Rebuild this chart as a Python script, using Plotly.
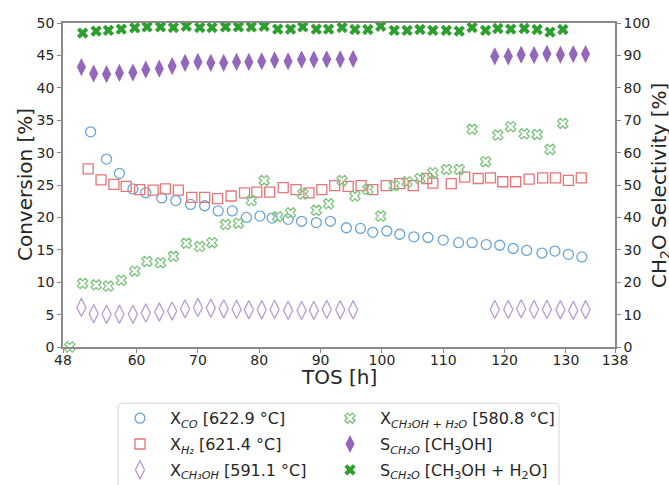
import plotly.graph_objects as go

# ---------------- data ----------------
tos_co = [52.5, 55.1, 57.2, 59.4, 61.5, 64.1, 66.4, 68.8, 71.1, 73.3, 75.6, 77.9,
          80.1, 82.1, 84.7, 86.9, 89.3, 91.6, 94.2, 96.5, 98.5, 100.8, 102.9, 105.2,
          107.5, 110.0, 112.5, 114.7, 117.0, 119.2, 121.4, 123.6, 126.1, 128.2, 130.4, 132.6]
x_co = [33.2, 29.0, 26.8, 24.4, 23.8, 23.0, 22.6, 22.0, 21.8, 21.0, 21.0, 20.0,
        20.2, 19.9, 19.7, 19.4, 19.2, 19.4, 18.4, 18.3, 17.7, 17.9, 17.4, 17.0,
        16.9, 16.5, 16.1, 16.1, 15.8, 15.7, 15.2, 14.9, 14.5, 14.8, 14.3, 13.9]

tos_h2 = [52.1, 54.2, 56.3, 58.3, 60.5, 62.7, 64.7, 66.8, 69.0, 71.1, 73.2, 75.4, 77.6,
          79.6, 81.7, 83.9, 86.0, 88.1, 90.2, 92.3, 94.5, 96.6, 98.5, 100.7, 102.9, 105.1,
          107.3, 108.3, 111.3, 113.5, 115.7, 117.7, 119.7, 121.8, 124.0, 126.2, 128.3, 130.4, 132.5]
x_h2 = [27.5, 25.8, 25.1, 24.8, 24.3, 24.2, 24.4, 24.2, 23.1, 23.1, 22.9, 23.3, 23.8,
        23.9, 23.9, 24.6, 24.3, 23.8, 24.3, 24.9, 24.8, 24.9, 24.3, 24.9, 25.2, 24.9,
        26.0, 25.3, 25.2, 26.2, 26.0, 26.1, 25.5, 25.5, 25.9, 26.1, 26.1, 25.7, 26.1]

tos_meoh = [51.0, 53.0, 55.1, 57.2, 59.4, 61.5, 63.7, 65.8, 67.9, 70.0, 72.1, 74.2, 76.3,
            78.3, 80.4, 82.5, 84.7, 86.9, 88.9, 91.0, 93.2, 95.3,
            118.4, 120.6, 122.7, 124.8, 126.9, 129.1, 131.2, 133.2]
x_meoh = [6.1, 5.15, 5.05, 5.05, 5.05, 5.25, 5.4, 5.55, 5.9, 6.1, 6.0, 5.9, 5.8,
          5.75, 5.75, 5.8, 5.65, 5.65, 5.65, 5.8, 5.75, 5.75,
          5.8, 5.8, 5.9, 5.8, 5.8, 5.75, 5.65, 5.75]
s_meoh = [86.4, 84.4, 84.2, 84.6, 84.7, 85.6, 85.9, 86.7, 87.7, 88.0, 87.7, 87.7, 88.0,
          88.0, 88.2, 88.5, 88.2, 88.7, 88.7, 88.8, 88.8, 88.9,
          89.7, 89.7, 90.2, 90.1, 90.5, 90.2, 90.4, 90.4]

tos_mix = [49.1, 51.2, 53.4, 55.4, 57.5, 59.7, 61.7, 63.9, 66.0, 68.1, 70.3, 72.3, 74.5,
           76.6, 78.7, 80.8, 83.0, 85.1, 87.1, 89.3, 91.3, 93.5, 95.6, 97.7, 99.8, 102.0,
           104.1, 106.2, 108.3, 110.5, 112.6, 114.7, 116.9, 118.9, 121.0, 123.2, 125.3, 127.4, 129.5]
x_mix = [0.0, 9.8, 9.6, 9.4, 10.3, 11.7, 13.2, 13.0, 14.0, 16.0, 15.5, 16.1, 18.9,
         19.1, 22.6, 25.7, 20.1, 20.7, 23.6, 21.1, 22.1, 25.7, 23.3, 24.3, 20.2, 24.9,
         25.5, 26.0, 26.9, 27.4, 27.4, 33.6, 28.6, 32.7, 34.0, 32.9, 32.8, 30.5, 34.5]
tos_s_mix = tos_mix[1:]
s_mix = [96.9, 97.5, 97.7, 98.1, 98.5, 98.8, 98.8, 98.6, 99.0, 98.6, 98.6, 98.8, 98.8,
         98.8, 99.0, 98.1, 98.1, 98.8, 98.1, 98.1, 98.6, 98.0, 98.0, 99.0, 97.7, 97.7,
         98.0, 97.7, 97.7, 97.5, 98.6, 97.7, 98.3, 98.1, 98.3, 98.0, 97.2, 98.0]

x_ticks = [48, 60, 70, 80, 90, 100, 110, 120, 130, 138]

# ---------------- styling ----------------
FONT = "DejaVu Sans"
SPINE = "#8a8a8a"
TXT = "#262626"

fig = go.Figure()

fig.add_trace(go.Scatter(
    x=tos_co, y=x_co, mode="markers", name="X<sub><i>CO</i></sub> [622.9 °C]",
    legend="legend", legendgroup="g1",
    marker=dict(symbol="circle-open", size=10, color="#6aa5d6", line=dict(width=1.3))))
fig.add_trace(go.Scatter(
    x=tos_h2, y=x_h2, mode="markers", name="X<sub><i>H₂</i></sub> [621.4 °C]",
    legend="legend", legendgroup="g2",
    marker=dict(symbol="square-open", size=10, color="#e57577", line=dict(width=1.3))))
fig.add_trace(go.Scatter(
    x=tos_meoh, y=x_meoh, mode="markers", name="X<sub><i>CH₃OH</i></sub> [591.1 °C]",
    legend="legend", legendgroup="g3",
    marker=dict(symbol="diamond-tall-open", size=13, color="#b99bd8", line=dict(width=1.3))))
fig.add_trace(go.Scatter(
    x=tos_mix, y=x_mix, mode="markers", name="X<sub><i>CH₃OH + H₂O</i></sub> [580.8 °C]",
    legend="legend2", legendgroup="g4", cliponaxis=False,
    marker=dict(symbol="x-open", size=9, color="#7cc47c", line=dict(width=1.3))))
fig.add_trace(go.Scatter(
    x=tos_meoh, y=s_meoh, mode="markers", yaxis="y2",
    legend="legend2", legendgroup="g5",
    name="S<sub><i>CH₂O</i></sub> [CH<sub>3</sub>OH]",
    marker=dict(symbol="diamond-tall", size=13, color="#9467bd", line=dict(width=0))))
fig.add_trace(go.Scatter(
    x=tos_s_mix, y=s_mix, mode="markers", yaxis="y2", cliponaxis=False,
    legend="legend2", legendgroup="g6",
    name="S<sub><i>CH₂O</i></sub> [CH<sub>3</sub>OH + H<sub>2</sub>O]",
    marker=dict(symbol="x", size=10, color="#2ca02c", line=dict(width=0))))

axis_common = dict(
    showline=True, linecolor=SPINE, linewidth=1.5, ticks="outside", ticklen=4,
    tickwidth=1.2, tickcolor=SPINE, showgrid=False, zeroline=False,
    tickfont=dict(family=FONT, size=14, color=TXT),
)

legend_common = dict(
    orientation="v", xanchor="left", yanchor="top", y=-0.1676,
    itemwidth=50, tracegroupgap=2,
    font=dict(family=FONT, size=16, color=TXT),
    borderwidth=0, bgcolor="rgba(0,0,0,0)",
)

# rounded legend frame (paper coordinates)
bx0, bx1, by0, by1 = 0.0996, 0.8986, -0.1738, -0.46
rx, ry = 4 / 552, 4 / 324
frame_path = (f"M {bx0 + rx},{by0} H {bx1 - rx} Q {bx1},{by0} {bx1},{by0 - ry} "
              f"V {by1} H {bx0} V {by0 - ry} Q {bx0},{by0} {bx0 + rx},{by0} Z")

fig.update_layout(
    width=669, height=485,
    margin=dict(l=63, r=54, t=23, b=138, pad=0, autoexpand=False),
    paper_bgcolor="white", plot_bgcolor="white",
    font=dict(family=FONT, color=TXT),
    xaxis=dict(range=[48, 138], tickmode="array", tickvals=x_ticks, mirror=True,
               ticklabelstandoff=-5, **axis_common),
    yaxis=dict(range=[0, 50], tick0=0, dtick=5, **axis_common),
    yaxis2=dict(range=[0, 100], tick0=0, dtick=10, overlaying="y", side="right", **axis_common),
    showlegend=True,
    legend=dict(x=0.0851, **legend_common),
    legend2=dict(x=0.4656, **legend_common),
    shapes=[dict(type="path", path=frame_path, xref="paper", yref="paper",
                 line=dict(color="#d6d6d6", width=1), fillcolor="rgba(0,0,0,0)")],
    annotations=[
        dict(text="Conversion [%]", x=-0.0688, y=0.5, xref="paper", yref="paper",
             textangle=-90, showarrow=False, xanchor="center", yanchor="middle",
             font=dict(family=FONT, size=20, color=TXT)),
        dict(text="CH<sub>2</sub>O Selectivity [%]", x=1.0815, y=0.5, xref="paper", yref="paper",
             textangle=-90, showarrow=False, xanchor="center", yanchor="middle",
             font=dict(family=FONT, size=20, color=TXT)),
        dict(text="TOS [h]", x=0.5, y=-0.0935, xref="paper", yref="paper",
             showarrow=False, xanchor="center", yanchor="middle",
             font=dict(family=FONT, size=20, color=TXT)),
    ],
)

fig.write_html("out.html")
